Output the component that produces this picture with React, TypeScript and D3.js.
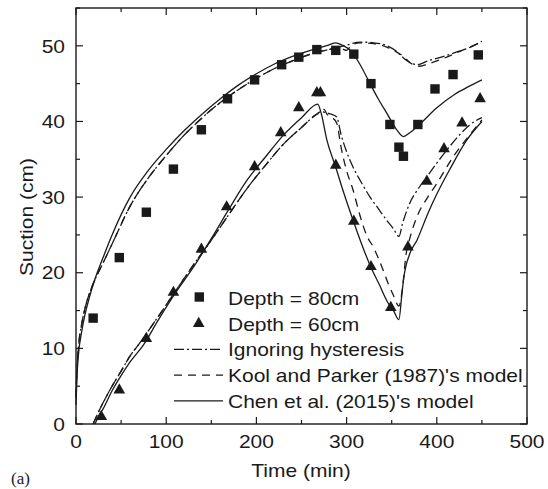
import React from "react";
import * as d3 from "d3";

// ---- data ----
const xTicks = [0, 100, 200, 300, 400, 500];
const yTicks = [0, 10, 20, 30, 40, 50];

const obs80: [number, number][] = [
  [19, 14], [48, 22], [78, 28], [108, 33.7], [139, 38.9], [168, 43], [198, 45.5],
  [228, 47.5], [247, 48.5], [267, 49.5], [288, 49.4], [308, 48.9], [327, 45],
  [348, 39.6], [358, 36.6], [363, 35.4], [379, 39.6], [398, 44.3], [418, 46.2], [446, 48.8],
];
const obs60: [number, number][] = [
  [28, 1.1], [48, 4.6], [78, 11.4], [108, 17.5], [139, 23.2], [167, 28.8], [198, 34.1],
  [227, 38.6], [247, 41.9], [267, 43.9], [271, 43.9], [288, 34.3], [308, 26.9],
  [327, 20.9], [349, 15.5], [368, 23.5], [389, 32.2], [408, 36.5], [428, 39.9], [448, 43.1],
];

const chen80: [number, number][] = [
  [0, 2.5], [1, 6], [3, 9.5], [6, 12], [10, 14.5], [15, 16.8], [20, 18.8], [30, 22], [40, 25],
  [60, 30], [80, 33.5], [100, 36.3], [120, 38.8], [140, 41], [160, 43], [180, 44.8], [200, 46.3],
  [220, 47.6], [240, 48.6], [260, 49.4], [280, 50.1], [288, 50.4], [295, 50.1], [305, 49.3],
  [315, 47.5], [326, 45], [335, 43], [345, 41], [355, 39], [363, 38], [370, 38.5], [380, 39.5],
  [400, 41.8], [420, 43.6], [435, 44.6], [450, 45.5],
];
const ignore80: [number, number][] = [
  [0, 3.5], [1, 7], [3, 10.5], [6, 13], [10, 15.3], [15, 17.3], [20, 18.8], [30, 21.3], [40, 23.8],
  [60, 28.8], [80, 32.5], [100, 35.5], [120, 38.2], [140, 40.5], [160, 42.5], [180, 44.2],
  [200, 45.7], [220, 47], [240, 48], [260, 48.9], [280, 49.5], [300, 50.1], [315, 50.5],
  [330, 50.4], [345, 50], [355, 49.3], [363, 48.4], [370, 47.8], [378, 47.5], [390, 48],
  [405, 48.5], [420, 49.1], [435, 49.7], [450, 50.6],
];
const kool80: [number, number][] = [
  [0, 3.5], [1, 7], [3, 10.5], [6, 13], [10, 15.3], [15, 17.3], [20, 18.8], [30, 21.3], [40, 23.8],
  [60, 28.8], [80, 32.5], [100, 35.5], [120, 38.2], [140, 40.5], [160, 42.5], [180, 44.2],
  [200, 45.7], [220, 47], [240, 48], [260, 48.9], [280, 49.5], [290, 49.7], [295, 49.6],
  [300, 49.4], [305, 50], [315, 50.4], [330, 50.3], [345, 49.8], [355, 49.2], [363, 48.6],
  [370, 47.8], [381, 47.3], [390, 47.6], [400, 48], [415, 48.7], [430, 49.5], [450, 50.5],
];

const chen60: [number, number][] = [
  [21, 0], [25, 1], [30, 2], [40, 4.4], [50, 6.4], [60, 8.2], [75, 10.5], [90, 13.5],
  [110, 17.3], [130, 20.7], [150, 24.5], [170, 28.5], [190, 32.3], [210, 35.3], [230, 38.2],
  [250, 40.5], [268, 42.3], [272, 41], [278, 37.6], [287, 34.3], [297, 30.5], [307, 27],
  [316, 24], [326, 21], [336, 18.5], [346, 16], [352, 15], [358, 13.8], [361, 16.8], [363, 19],
  [370, 22.5], [378, 24.3], [390, 27.8], [400, 30.4], [415, 33.8], [433, 37.5], [450, 40],
];
const ignore60: [number, number][] = [
  [19, 0], [25, 1.6], [30, 2.8], [40, 5], [50, 7], [60, 9], [70, 10.6], [90, 14], [110, 17.5],
  [130, 21], [150, 24.3], [170, 27.8], [190, 31.2], [210, 34.2], [230, 37], [250, 39.2],
  [265, 40.8], [272, 41.3], [276, 41.2], [282, 41], [289, 40.6], [294, 38.2], [300, 36],
  [307, 34], [316, 32], [326, 30], [335, 28.5], [344, 27], [352, 25.8], [358, 24.8],
  [362, 26.5], [370, 29.2], [380, 31.2], [389, 32.7], [400, 34.5], [411, 36.2], [425, 38.2],
  [437, 39.6], [450, 40.5],
];
const kool60: [number, number][] = [
  [19, 0], [25, 1.6], [30, 2.8], [40, 5], [50, 7], [60, 9], [70, 10.6], [90, 14], [110, 17.5],
  [130, 21], [150, 24.3], [170, 27.8], [190, 31.2], [210, 34.2], [230, 37], [250, 39.2],
  [265, 40.8], [272, 41.3], [275, 41.6], [278, 41], [283, 40.6], [289, 39.8], [294, 36.5],
  [300, 33.5], [307, 31], [315, 27.5], [322, 25], [330, 23.3], [340, 20.5], [346, 18.6],
  [352, 17], [358, 15.6], [362, 18], [366, 22.5], [370, 24.5], [378, 27.4], [390, 30],
  [400, 31.8], [418, 35.3], [435, 38], [450, 40.2],
];

const legendLabels = [
  "Depth = 80cm",
  "Depth = 60cm",
  "Ignoring hysteresis",
  "Kool and Parker (1987)'s model",
  "Chen et al. (2015)'s model",
];

// ---- layout ----
const W = 548, H = 489;
const L = 76, R = 527, T = 8, B = 424;
const FONT = "'Liberation Sans', Arial, sans-serif";
const FS = 18.6;
const SX = 1.13;

const DASHDOT = "10,3,2,3";
const DASHED = "8,6";

export default function App() {
  const x = d3.scaleLinear().domain([0, 500]).range([L, R]);
  const y = d3.scaleLinear().domain([0, 55]).range([B, T]);
  const line = d3.line<[number, number]>()
    .x(d => x(d[0])).y(d => y(d[1]))
    .curve(d3.curveMonotoneX);

  const xMinor = d3.range(0, 501, 50);
  const yMinor = d3.range(0, 56, 5);

  const sq = (cx: number, cy: number, k: string) => (
    <rect key={k} x={cx - 4.7} y={cy - 4.7} width={9.4} height={9.4} fill="#1a1a1a" />
  );
  const tri = (cx: number, cy: number, k: string) => (
    <path key={k} d={`M${cx},${cy - 6} L${cx + 5.8},${cy + 4.2} L${cx - 5.8},${cy + 4.2} Z`} fill="#1a1a1a" />
  );

  const text = (s: string, tx: number, ty: number, anchor: string, k: string, extra: any = {}) => (
    <text key={k} transform={`translate(${tx},${ty}) scale(${SX},1)`} textAnchor={anchor}
      fontFamily={FONT} fontSize={FS} fill="#1a1a1a" {...extra}>{s}</text>
  );

  const curves: { d: [number, number][]; dash?: string }[] = [
    { d: ignore80, dash: DASHDOT }, { d: kool80, dash: DASHED }, { d: chen80 },
    { d: ignore60, dash: DASHDOT }, { d: kool60, dash: DASHED }, { d: chen60 },
  ];

  const legX0 = 174, legX1 = 223, legTextX = 228, legBase = 305, legStep = 25.7;

  return (
    <svg width={W} height={H} style={{ position: "absolute", left: 0, top: 0 }}>
      <rect width={W} height={H} fill="#fff" />
      {/* curves */}
      <g fill="none" stroke="#1a1a1a" strokeWidth={1.3}>
        {curves.map((c, i) => (
          <path key={i} d={line(c.d) || ""} strokeDasharray={c.dash} />
        ))}
      </g>
      {obs80.map((d, i) => sq(x(d[0]), y(d[1]), "s" + i))}
      {obs60.map((d, i) => tri(x(d[0]), y(d[1]), "t" + i))}

      {/* frame */}
      <rect x={L} y={T} width={R - L} height={B - T} fill="none" stroke="#1a1a1a" strokeWidth={1.4} />
      {/* ticks */}
      <g stroke="#1a1a1a" strokeWidth={1.2}>
        {xMinor.map(v => {
          const len = v % 100 === 0 ? 7 : 4;
          return (
            <g key={"xt" + v}>
              <line x1={x(v)} x2={x(v)} y1={B} y2={B - len} />
              <line x1={x(v)} x2={x(v)} y1={T} y2={T + len} />
            </g>
          );
        })}
        {yMinor.map(v => {
          const len = v % 10 === 0 ? 7 : 4;
          return (
            <g key={"yt" + v}>
              <line x1={L} x2={L + len} y1={y(v)} y2={y(v)} />
              <line x1={R} x2={R - len} y1={y(v)} y2={y(v)} />
            </g>
          );
        })}
      </g>
      {xTicks.map(v => text(String(v), x(v), 448, "middle", "xl" + v))}
      {yTicks.map(v => text(String(v), 65, y(v) + 6.7, "end", "yl" + v))}

      {/* axis titles */}
      {text("Time (min)", 301, 477, "middle", "xtitle")}
      <text transform={`translate(33,217) rotate(-90) scale(${SX},1)`} textAnchor="middle"
        fontFamily={FONT} fontSize={FS} fill="#1a1a1a">Suction (cm)</text>
      <text x={11} y={484} fontFamily="'Liberation Serif', 'Times New Roman', serif" fontSize={17} fill="#1a1a1a">(a)</text>

      {/* legend */}
      {sq(199.3, legBase - 8, "lsq")}
      {tri(198.7, legBase + legStep - 8, "ltri")}
      <g stroke="#1a1a1a" strokeWidth={1.3}>
        <line x1={legX0} x2={legX1} y1={legBase + 2 * legStep - 7} y2={legBase + 2 * legStep - 7} strokeDasharray={DASHDOT} />
        <line x1={legX0} x2={legX1} y1={legBase + 3 * legStep - 7} y2={legBase + 3 * legStep - 7} strokeDasharray={DASHED} />
        <line x1={legX0} x2={legX1} y1={legBase + 4 * legStep - 7} y2={legBase + 4 * legStep - 7} />
      </g>
      {legendLabels.map((s, i) => text(s, legTextX, legBase + i * legStep, "start", "lg" + i))}
    </svg>
  );
}
